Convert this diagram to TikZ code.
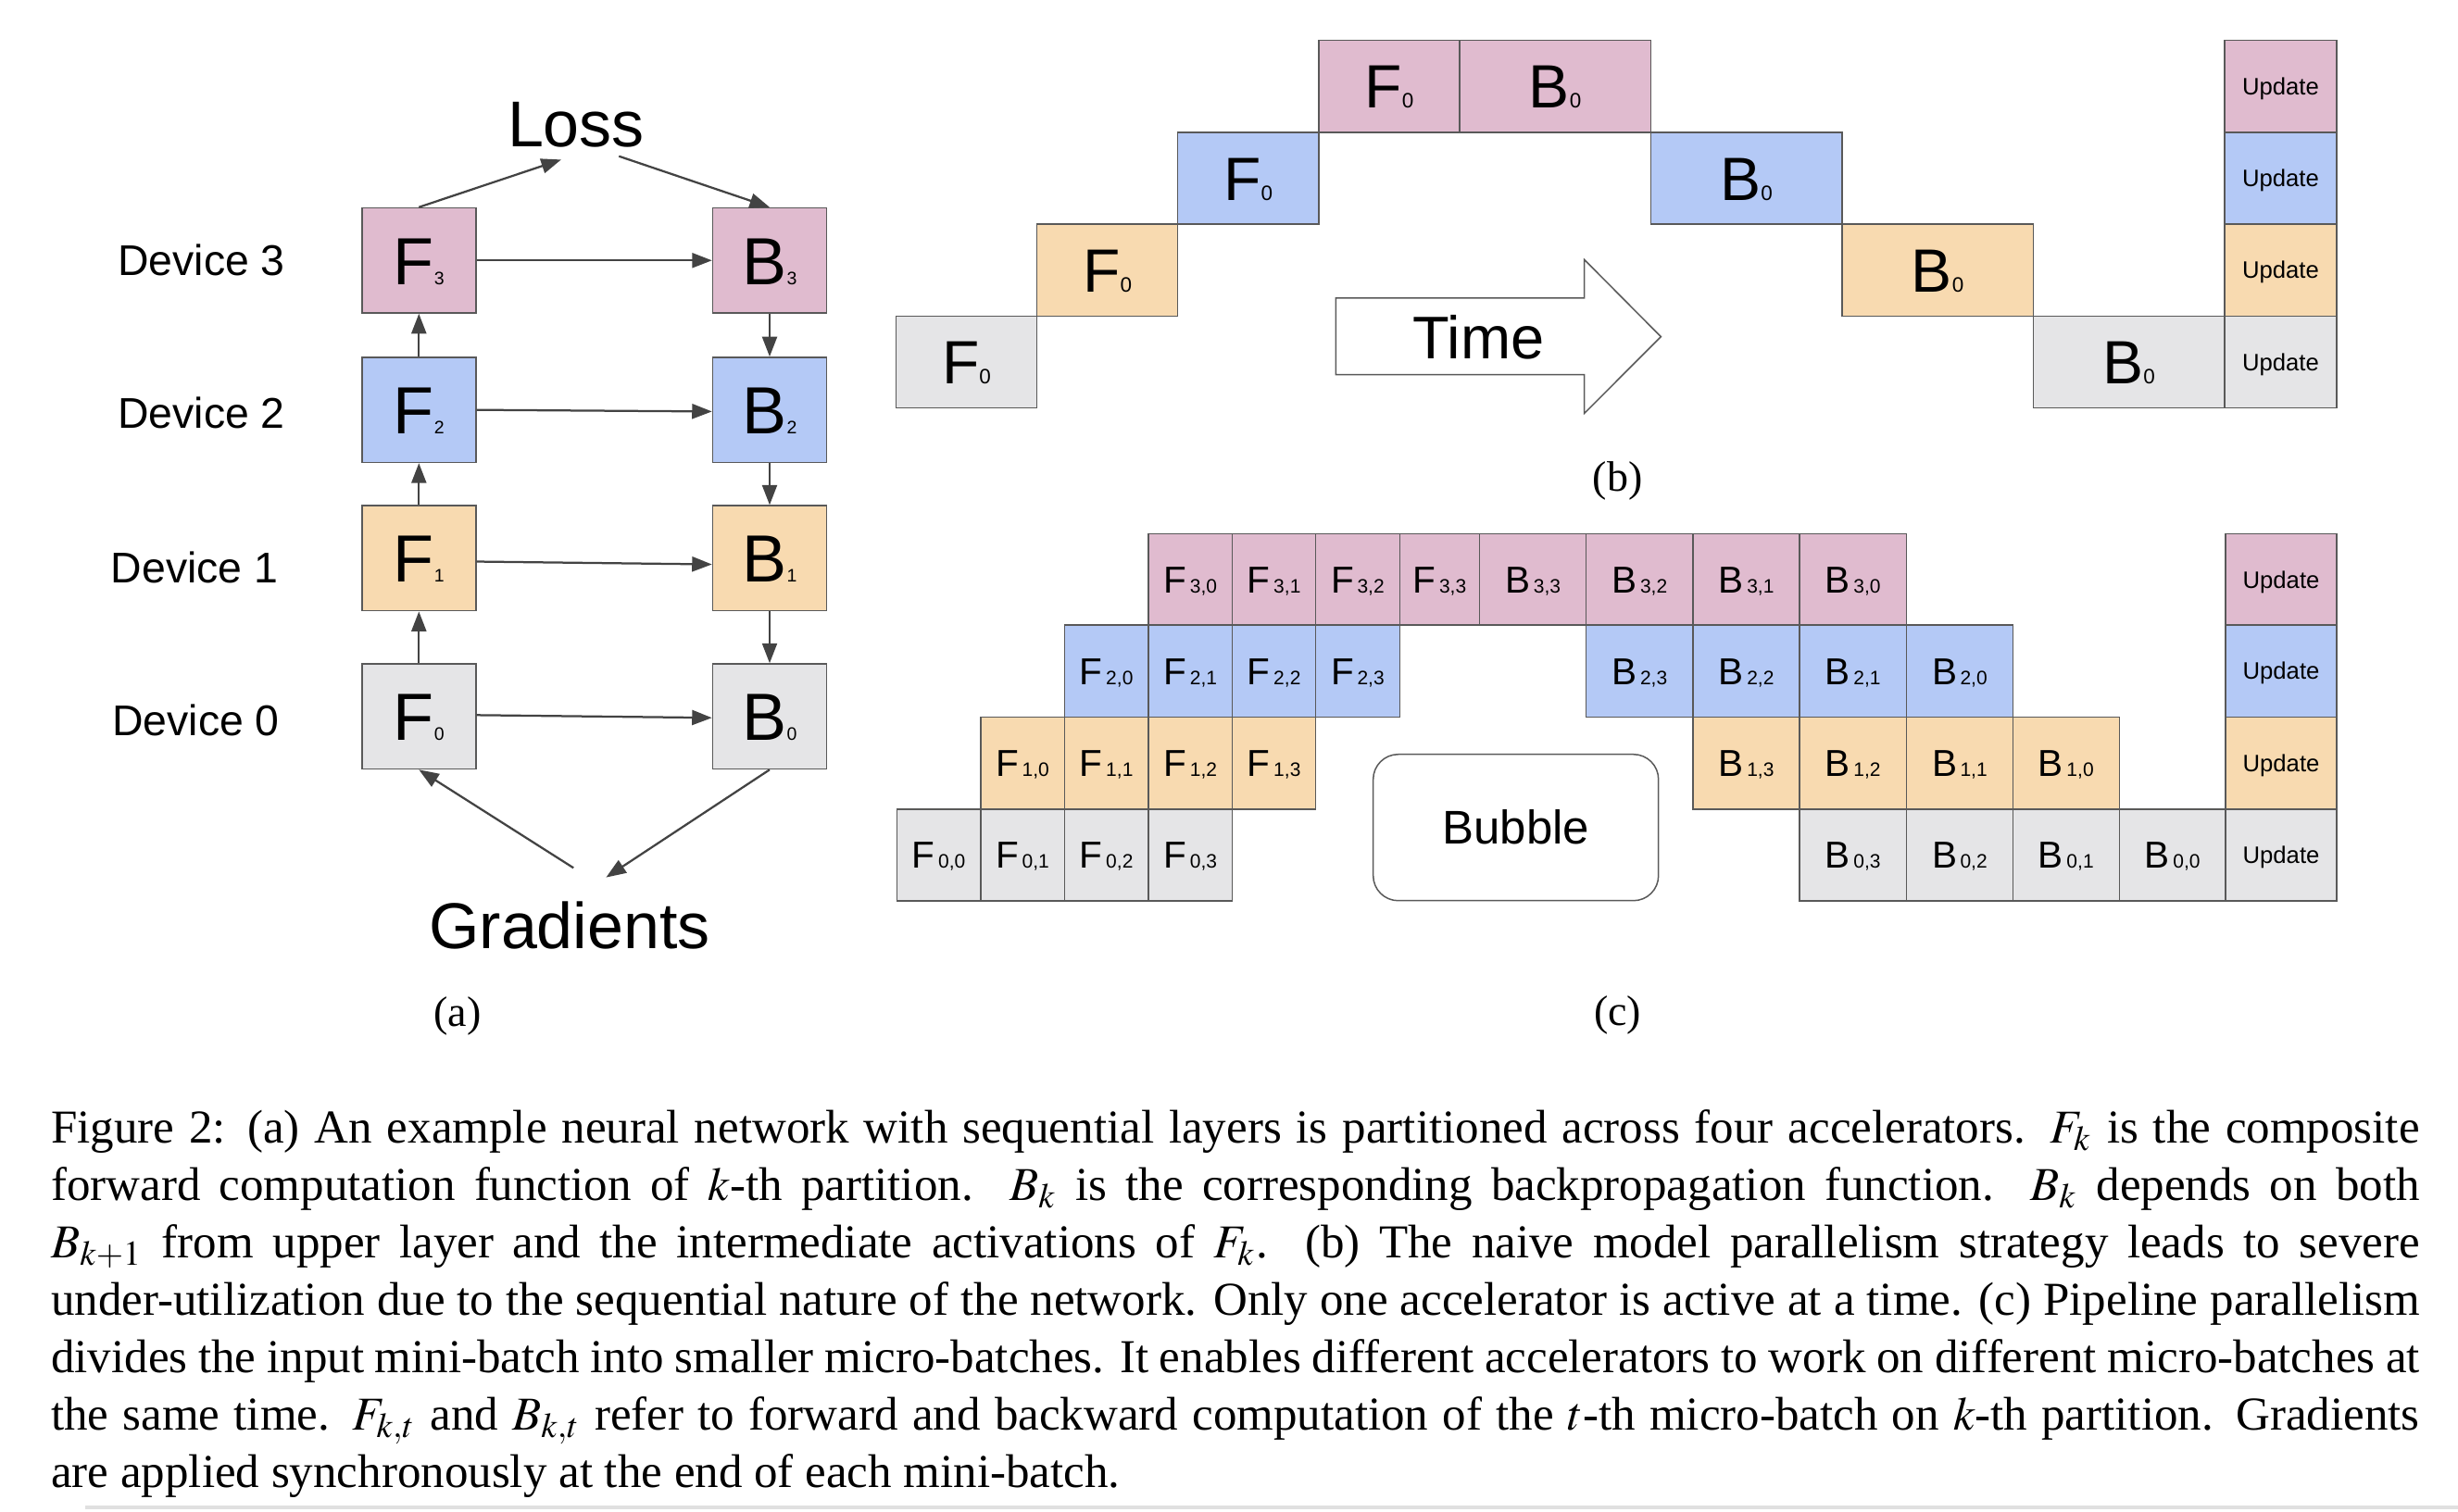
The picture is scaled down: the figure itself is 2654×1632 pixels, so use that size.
\documentclass[tikz,border=0pt]{standalone}
\usepackage{mathptmx}
\usepackage{fontspec}
\setmainfont{Liberation Serif}
\newfontfamily\arialf{Liberation Sans}
\usetikzlibrary{arrows.meta}
\definecolor{cpink}{HTML}{E0BBCF}
\definecolor{cblue}{HTML}{B4C9F6}
\definecolor{corange}{HTML}{F8DAB0}
\definecolor{cgray}{HTML}{E5E5E7}
\definecolor{edgec}{HTML}{595959}
\definecolor{arrc}{HTML}{434343}
\newcommand{\sa}[2]{{\fontsize{14.4pt}{14.4pt}\selectfont #1}{\fontsize{3.9pt}{3.9pt}\selectfont #2}}
\newcommand{\sbb}[2]{{\fontsize{13.2pt}{13.2pt}\selectfont #1}{\fontsize{4.5pt}{4.5pt}\selectfont #2}}
\newcommand{\scc}[2]{{\fontsize{8.1pt}{8.1pt}\selectfont #1}\hspace{0.7pt}{\fontsize{4.2pt}{4.2pt}\selectfont #2}}
\newcommand{\upd}{{\fontsize{5.14pt}{5.14pt}\selectfont Update}}
% x1,y1,x2,y2,colour,text,name,style
\newcommand{\cellat}[8]{\node[cellbase,#8,fill=#5,minimum width={(#3-#1)*0.2pt},minimum height={(#4-#2)*0.2pt}] (#7) at ({(#1+#3)/2},{(#2+#4)/2}) {#6};}
\tikzset{
  cellbase/.style={draw=edgec,line width=0.3pt,inner sep=0pt,outer sep=0pt,font=\arialf,text depth=0pt,anchor=center},
  bcap/.style={text height=9.45pt},
  ccap/.style={text height=5.8pt},
  ucap/.style={text height=3.68pt},
  abox/.style={draw=edgec,line width=0.3pt,inner sep=0pt,minimum width=24.6pt,minimum height=22.7pt,font=\arialf,text height=10.31pt,text depth=0pt},
  arr/.style={draw=arrc,line width=0.45pt,-{Triangle[length=4.3pt,width=3.2pt]}},
  dev/.style={font=\arialf\fontsize{9.28pt}{9.28pt}\selectfont,inner sep=0pt,text height=6.64pt,text depth=0pt},
  bigtxt/.style={font=\arialf\fontsize{14pt}{14pt}\selectfont,inner sep=0pt,text height=10.02pt,text depth=0pt},
  lab/.style={font=\fontsize{9.2pt}{9.2pt}\selectfont,inner sep=0pt,anchor=base},
}
\begin{document}
\begin{tikzpicture}[x=0.2pt,y=-0.2pt]
\useasboundingbox (0,0) rectangle (2654,1632);
% ---------------- (a) ----------------
\node[dev] (d3) at (217.5,280.9) {Device 3};
\node[dev] (d2) at (217.5,445.9) {Device 2};
\node[dev] (d1) at (210,612.4) {Device 1};
\node[dev] (d0) at (211.5,777.4) {Device 0};
\node[abox,fill=cpink] (F3) at (452.3,281.25) {\sa{F}{3}};
\node[abox,fill=cblue] (F2) at (452.3,442.65) {\sa{F}{2}};
\node[abox,fill=corange] (F1) at (452.3,602.85) {\sa{F}{1}};
\node[abox,fill=cgray] (F0) at (452.3,773.75) {\sa{F}{0}};
\node[abox,fill=cpink] (B3) at (831,281.25) {\sa{B}{3}};
\node[abox,fill=cblue] (B2) at (831,442.65) {\sa{B}{2}};
\node[abox,fill=corange] (B1) at (831,602.85) {\sa{B}{1}};
\node[abox,fill=cgray] (B0) at (831,773.75) {\sa{B}{0}};
\node[bigtxt] (loss) at (622,133) {Loss};
\node[bigtxt] (grad) at (615,999.3) {Gradients};
\coordinate (lossin) at (605.9,172.4);
\coordinate (lossout) at (668.3,168.7);
\coordinate (gradout) at (619.2,937.3);
\coordinate (gradin) at (654.4,947.6);
\draw[arr] (F3.north) -- (lossin);
\draw[arr] (lossout) -- (B3.north);
\draw[arr] (F0.north) -- (F1.south);
\draw[arr] (F1.north) -- (F2.south);
\draw[arr] (F2.north) -- (F3.south);
\draw[arr] (B3.south) -- (B2.north);
\draw[arr] (B2.south) -- (B1.north);
\draw[arr] (B1.south) -- (B0.north);
\draw[arr] (F3.east) -- (B3.west);
\draw[arr] (F2.east) -- ([yshift=-0.35pt]B2.west);
\draw[arr] ([yshift=-0.73pt]F1.east) -- ([yshift=-1.33pt]B1.west);
\draw[arr] ([yshift=0.29pt]F0.east) -- ([yshift=-0.29pt]B0.west);
\draw[arr] (gradout) -- (F0.south);
\draw[arr] (B0.south) -- (gradin);
\node[lab] (la) at (493.8,1108) {(a)};
% ---------------- (b) ----------------
\cellat{967.4}{341.4}{1119.5}{440.7}{cgray}{\sbb{F}{0}}{bF0}{bcap}
\cellat{1119.5}{242.1}{1271.7}{341.4}{corange}{\sbb{F}{0}}{bF1}{bcap}
\cellat{1271.7}{142.9}{1423.8}{242.1}{cblue}{\sbb{F}{0}}{bF2}{bcap}
\cellat{1423.8}{43.6}{1576}{142.9}{cpink}{\sbb{F}{0}}{bF3}{bcap}
\cellat{1576}{43.6}{1782.4}{142.9}{cpink}{\sbb{B}{0}}{bB3}{bcap}
\cellat{1782.4}{142.9}{1988.9}{242.1}{cblue}{\sbb{B}{0}}{bB2}{bcap}
\cellat{1988.9}{242.1}{2195.4}{341.4}{corange}{\sbb{B}{0}}{bB1}{bcap}
\cellat{2195.4}{341.4}{2401.9}{440.7}{cgray}{\sbb{B}{0}}{bB0}{bcap}
\cellat{2401.9}{43.6}{2523}{142.9}{cpink}{\upd}{bU3}{ucap}
\cellat{2401.9}{142.9}{2523}{242.1}{cblue}{\upd}{bU2}{ucap}
\cellat{2401.9}{242.1}{2523}{341.4}{corange}{\upd}{bU1}{ucap}
\cellat{2401.9}{341.4}{2523}{440.7}{cgray}{\upd}{bU0}{ucap}
\draw[draw=edgec,line width=0.3pt,fill=white] (1442.3,321.8) -- (1710.7,321.8) -- (1710.7,280.4) -- (1793.3,363.6) -- (1710.7,446.4) -- (1710.7,404.6) -- (1442.3,404.6) -- cycle;
\node[inner sep=0pt,font=\arialf\fontsize{13pt}{13pt}\selectfont,text height=9.3pt,text depth=0pt] (time) at (1596.6,364) {Time};
\node[lab] (lb) at (1746.7,530) {(b)};
% ---------------- (c) ----------------
% row 3
\cellat{1240}{576.5}{1330.7}{675.2}{cpink}{\scc{F}{3,0}}{cF30}{ccap}
\cellat{1330.7}{576.5}{1420.7}{675.2}{cpink}{\scc{F}{3,1}}{cF31}{ccap}
\cellat{1420.7}{576.5}{1511.3}{675.2}{cpink}{\scc{F}{3,2}}{cF32}{ccap}
\cellat{1511.3}{576.5}{1597.7}{675.2}{cpink}{\scc{F}{3,3}}{cF33}{ccap}
\cellat{1597.7}{576.5}{1712.7}{675.2}{cpink}{\scc{B}{3,3}}{cB33}{ccap}
\cellat{1712.7}{576.5}{1828}{675.2}{cpink}{\scc{B}{3,2}}{cB32}{ccap}
\cellat{1828}{576.5}{1943.2}{675.2}{cpink}{\scc{B}{3,1}}{cB31}{ccap}
\cellat{1943.2}{576.5}{2058.4}{675.2}{cpink}{\scc{B}{3,0}}{cB30}{ccap}
\cellat{2403}{576.5}{2523}{675.2}{cpink}{\upd}{cU3}{ucap}
% row 2
\cellat{1149.4}{675.2}{1240}{774.3}{cblue}{\scc{F}{2,0}}{cF20}{ccap}
\cellat{1240}{675.2}{1330.7}{774.3}{cblue}{\scc{F}{2,1}}{cF21}{ccap}
\cellat{1330.7}{675.2}{1420.7}{774.3}{cblue}{\scc{F}{2,2}}{cF22}{ccap}
\cellat{1420.7}{675.2}{1511.3}{774.3}{cblue}{\scc{F}{2,3}}{cF23}{ccap}
\cellat{1712.7}{675.2}{1828}{774.3}{cblue}{\scc{B}{2,3}}{cB23}{ccap}
\cellat{1828}{675.2}{1943.2}{774.3}{cblue}{\scc{B}{2,2}}{cB22}{ccap}
\cellat{1943.2}{675.2}{2058.4}{774.3}{cblue}{\scc{B}{2,1}}{cB21}{ccap}
\cellat{2058.4}{675.2}{2173.3}{774.3}{cblue}{\scc{B}{2,0}}{cB20}{ccap}
\cellat{2403}{675.2}{2523}{774.3}{cblue}{\upd}{cU2}{ucap}
% row 1
\cellat{1058.9}{774.3}{1149.4}{873.9}{corange}{\scc{F}{1,0}}{cF10}{ccap}
\cellat{1149.4}{774.3}{1240}{873.9}{corange}{\scc{F}{1,1}}{cF11}{ccap}
\cellat{1240}{774.3}{1330.7}{873.9}{corange}{\scc{F}{1,2}}{cF12}{ccap}
\cellat{1330.7}{774.3}{1420.7}{873.9}{corange}{\scc{F}{1,3}}{cF13}{ccap}
\cellat{1828}{774.3}{1943.2}{873.9}{corange}{\scc{B}{1,3}}{cB13}{ccap}
\cellat{1943.2}{774.3}{2058.4}{873.9}{corange}{\scc{B}{1,2}}{cB12}{ccap}
\cellat{2058.4}{774.3}{2173.3}{873.9}{corange}{\scc{B}{1,1}}{cB11}{ccap}
\cellat{2173.3}{774.3}{2288.3}{873.9}{corange}{\scc{B}{1,0}}{cB10}{ccap}
\cellat{2403}{774.3}{2523}{873.9}{corange}{\upd}{cU1}{ucap}
% row 0
\cellat{968.5}{873.9}{1058.9}{972.9}{cgray}{\scc{F}{0,0}}{cF00}{ccap}
\cellat{1058.9}{873.9}{1149.4}{972.9}{cgray}{\scc{F}{0,1}}{cF01}{ccap}
\cellat{1149.4}{873.9}{1240}{972.9}{cgray}{\scc{F}{0,2}}{cF02}{ccap}
\cellat{1240}{873.9}{1330.7}{972.9}{cgray}{\scc{F}{0,3}}{cF03}{ccap}
\cellat{1943.2}{873.9}{2058.4}{972.9}{cgray}{\scc{B}{0,3}}{cB03}{ccap}
\cellat{2058.4}{873.9}{2173.3}{972.9}{cgray}{\scc{B}{0,2}}{cB02}{ccap}
\cellat{2173.3}{873.9}{2288.3}{972.9}{cgray}{\scc{B}{0,1}}{cB01}{ccap}
\cellat{2288.3}{873.9}{2403}{972.9}{cgray}{\scc{B}{0,0}}{cB00}{ccap}
\cellat{2403}{873.9}{2523}{972.9}{cgray}{\upd}{cU0}{ucap}
\node[draw=edgec,line width=0.3pt,rounded corners=5.4pt,inner sep=0pt,minimum width={(1790.7-1482.7)*0.2pt},minimum height={(972.7-814.7)*0.2pt},font=\arialf\fontsize{10.2pt}{10.2pt}\selectfont,text height=7.3pt,text depth=0pt] (bubble) at (1636.7,893.7) {Bubble};
\node[lab] (lc) at (1746.7,1107) {(c)};
% ---------------- caption ----------------
\node[anchor=base west,inner sep=0pt,font=\fontsize{10.2pt}{12.4pt}\selectfont] (caption) at (54.2,1234) {\parbox[t]{511.5pt}{\hyphenpenalty=10000\exhyphenpenalty=10000\spaceskip=0.25em plus 0.3em minus 0.12em Figure 2: (a) An example neural network with sequential layers is partitioned across four accelerators. $F_k$ is the composite\linebreak
forward computation function of $k$-th partition. $B_k$ is the corresponding backpropagation function. $B_k$ depends on both\linebreak
$B_{k+1}$ from upper layer and the intermediate activations of $F_k$. (b) The naive model parallelism strategy leads to severe\linebreak
under-utilization due to the sequential nature of the network. Only one accelerator is active at a time. (c) Pipeline parallelism\linebreak
divides the input mini-batch into smaller micro-batches. It enables different accelerators to work on different micro-batches at\linebreak
the same time. $F_{k,t}$ and $B_{k,t}$ refer to forward and backward computation of the $t$-th micro-batch on $k$-th partition. Gradients\linebreak
are applied synchronously at the end of each mini-batch.}};
\draw[black!12,line width=0.8pt] (92,1628) -- (2654,1628);
\end{tikzpicture}
\end{document}
